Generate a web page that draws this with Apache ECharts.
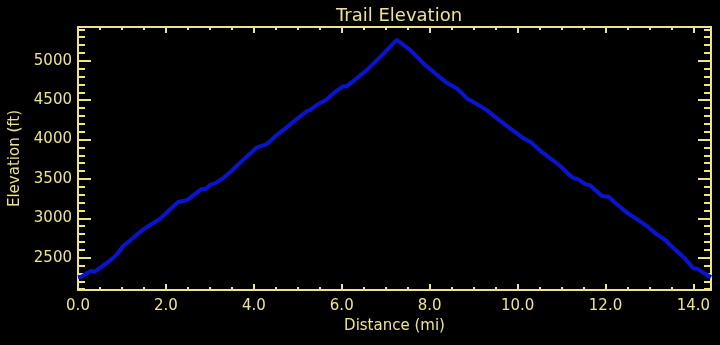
<!DOCTYPE html>
<html>
<head>
<meta charset="utf-8">
<title>Trail Elevation</title>
<script src="https://cdn.jsdelivr.net/npm/echarts@6/dist/echarts.min.js"></script>
<style>
  html, body { margin: 0; padding: 0; background: #000; }
  #chart { width: 720px; height: 345px; }
</style>
</head>
<body>
<div id="chart"></div>
<script>
// distance along trail (mi)
const distance = [0, 0.08, 0.2, 0.31, 0.37, 0.5, 0.69, 0.88, 1.03, 1.18, 1.33, 1.49, 1.68, 1.87,
  2.06, 2.28, 2.40, 2.51, 2.66, 2.80, 2.89, 3.03, 3.12, 3.31, 3.50, 3.78, 4.07, 4.30, 4.52,
  4.75, 4.98, 5.21, 5.28, 5.43, 5.66, 5.85, 6.04, 6.12, 6.34, 6.57, 6.88, 7.10, 7.25, 7.56,
  7.86, 8.13, 8.39, 8.62, 8.85, 9.07, 9.30, 9.53, 9.83, 10.14, 10.29, 10.52, 10.82, 10.97,
  11.16, 11.28, 11.37, 11.54, 11.64, 11.92, 12.07, 12.22, 12.49, 12.72, 12.94, 13.17, 13.36,
  13.55, 13.78, 14.0, 14.08, 14.23, 14.4];
// elevation (ft)
const elevation = [2251, 2260, 2302, 2335, 2318, 2370, 2446, 2538, 2648, 2716, 2788, 2860, 2928, 2995,
  3097, 3207, 3220, 3241, 3308, 3368, 3368, 3432, 3444, 3515, 3604, 3755, 3901, 3943, 4057,
  4155, 4264, 4362, 4374, 4438, 4510, 4607, 4679, 4679, 4777, 4882, 5051, 5178, 5268, 5136,
  4967, 4840, 4721, 4650, 4523, 4451, 4374, 4269, 4142, 4015, 3972, 3858, 3731, 3664,
  3562, 3508, 3499, 3435, 3422, 3283, 3274, 3198, 3071, 2987, 2902, 2797, 2725,
  2619, 2505, 2366, 2361, 2310, 2251];
// tick values
const yMajorTicks = [2500, 3000, 3500, 4000, 4500, 5000];
const yMinorTicks = [2100, 2200, 2300, 2400, 2600, 2700, 2800, 2900, 3100, 3200, 3300, 3400,
  3600, 3700, 3800, 3900, 4100, 4200, 4300, 4400, 4600, 4700, 4800, 4900, 5100, 5200, 5300, 5400];

const fg = '#ECE391';
const font = 'DejaVu Sans';
const yMin = 2090, yMax = 5430;
const xMin = 0, xMax = 14.4;

const chart = echarts.init(document.getElementById('chart'));

function xAxisDef(pos, labels) {
  return {
    type: 'value', position: pos, min: xMin, max: xMax, interval: 2,
    axisLine: { show: true, lineStyle: { color: fg, width: 2 } },
    axisTick: { show: true, inside: true, length: 6, lineStyle: { color: fg, width: 2 } },
    minorTick: { show: true, splitNumber: 4, length: 3, lineStyle: { color: fg, width: 2 } },
    splitLine: { show: false },
    axisLabel: {
      show: labels, color: fg, fontFamily: font, fontSize: 15, margin: 9,
      showMaxLabel: false,
      formatter: v => v.toFixed(1)
    },
    name: labels ? 'Distance (mi)' : '', nameLocation: 'middle', nameGap: 27,
    nameTextStyle: { color: fg, fontFamily: font, fontSize: 15 }
  };
}

function yAxisDef(pos, major, labels) {
  return {
    type: 'value', position: pos, min: yMin, max: yMax,
    axisLine: { show: major, lineStyle: { color: fg, width: 2 } },
    axisTick: {
      show: true, inside: true, length: major ? 13 : 7,
      customValues: major ? yMajorTicks : yMinorTicks,
      lineStyle: { color: fg, width: 2 }
    },
    splitLine: { show: false },
    axisLabel: {
      show: labels, color: fg, fontFamily: font, fontSize: 15, margin: 6,
      customValues: yMajorTicks,
      formatter: v => String(v)
    },
    name: labels ? 'Elevation (ft)' : '', nameLocation: 'middle', nameGap: 55,
    nameTextStyle: { color: fg, fontFamily: font, fontSize: 15 }
  };
}

const option = {
  backgroundColor: '#000',
  animation: false,
  title: {
    text: 'Trail Elevation', left: 394, top: 2, textAlign: 'center',
    textStyle: { color: fg, fontFamily: font, fontSize: 18, fontWeight: 'normal' }
  },
  grid: { left: 78, right: 9, top: 27, bottom: 55, containLabel: false, outerBoundsMode: 'none' },
  xAxis: [xAxisDef('bottom', true), xAxisDef('top', false)],
  yAxis: [
    yAxisDef('left', true, true), yAxisDef('left', false, false),
    yAxisDef('right', true, false), yAxisDef('right', false, false)
  ],
  series: [{
    type: 'line',
    data: distance.map((d, i) => [d, elevation[i]]),
    showSymbol: false,
    lineStyle: { color: '#0A14D0', width: 4 },
    xAxisIndex: 0, yAxisIndex: 0
  }]
};

chart.setOption(option);
</script>
</body>
</html>
